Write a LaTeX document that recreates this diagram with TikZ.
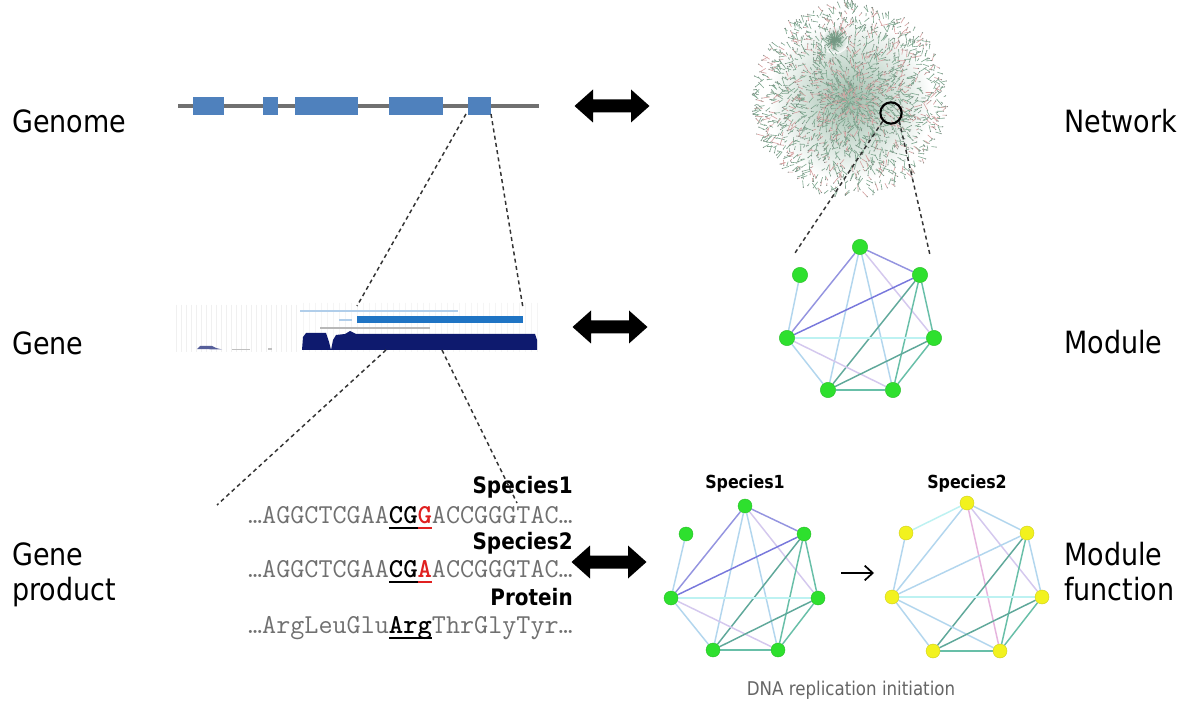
\documentclass[tikz,border=0pt]{standalone}
\usepackage{fontspec}
\setmainfont{DejaVu Sans}[FakeStretch=0.88]
\newfontfamily\seqbf{lmmonolt10-bold.otf}
\usetikzlibrary{arrows.meta}
\pgfdeclarelayer{bg}
\pgfsetlayers{bg,main}

\definecolor{exonblue}{HTML}{4F81BD}
\definecolor{trackgray}{HTML}{707070}
\definecolor{navy}{HTML}{0E1A6E}
\definecolor{barblue}{HTML}{1F74C4}
\definecolor{seqgray}{HTML}{707070}
\definecolor{seqred}{HTML}{E02020}
\definecolor{hbgreen}{HTML}{7FA890}
\definecolor{hbpink}{HTML}{D6A0A0}
\definecolor{hbdot}{HTML}{5E6E64}
\definecolor{ngreen}{HTML}{2EE02E}
\definecolor{nyellow}{HTML}{F2F21E}
\definecolor{ecyan}{HTML}{BDF2F2}
\definecolor{elblue}{HTML}{B2D6EE}
\definecolor{epurple}{HTML}{9494E0}
\definecolor{eblue}{HTML}{7878DC}
\definecolor{eteal}{HTML}{68BFA8}
\definecolor{edteal}{HTML}{5FA89A}
\definecolor{elpurple}{HTML}{D4C8EE}
\definecolor{epink}{HTML}{E6B4DE}

% underline drawn at a fixed depth below the baseline
\newcommand\seqmark[2]{\begingroup\setbox0\hbox{#2}\rlap{\color{#1}\rule[-4.6pt]{\wd0}{1.5pt}}\box0\endgroup}
% heavy weight for the highlighted codon
\newcommand\codon[2]{{\color{#1}\seqbf #2}}

\begin{document}
\begin{tikzpicture}[x=0.75pt,y=-0.75pt,
  lvl/.style={font=\fontsize{23}{26}\selectfont, anchor=base west, inner sep=0pt},
  sphead/.style={font=\fontsize{17}{20}\selectfont\bfseries, anchor=base east, inner sep=0pt},
  grtitle/.style={font=\fontsize{13.5}{16}\selectfont\bfseries, anchor=base, inner sep=0pt},
  seq/.style={font=\fontsize{20.5}{22}\ttfamily, text=seqgray, anchor=base east, inner sep=0pt},
  exon/.style={fill=exonblue, draw=none},
  zoomline/.style={draw=black!80, line width=1.1pt, dash pattern=on 3pt off 2.5pt},
  gnode/.style={circle, inner sep=0pt, minimum size=11.5, fill=#1, draw=#1!85!black, line width=0.3pt},
  gedge/.style={draw=#1, line width=1.1pt},
  pics/dblarrow/.style={code={
    \fill[black] (-37.5,0) -- (-19,-16.5) -- (-19,-6.5) -- (19,-6.5) -- (19,-16.5)
      -- (37.5,0) -- (19,16.5) -- (19,6.5) -- (-19,6.5) -- (-19,16.5) -- cycle;}}
]
\useasboundingbox (0,0) rectangle (1186,702);
\begin{pgfonlayer}{bg}
\fill[white] (0,0) rectangle (1186,702);
\end{pgfonlayer}

% ---------- row labels ----------
\node[lvl] (lgenome) at (12,133) {Genome};
\node[lvl] (lgene) at (12,355) {Gene};
\node[lvl] (lprod1) at (12,565) {Gene};
\node[lvl] (lprod2) at (12,600) {product};
\node[lvl] (lnet) at (1064,133) {Network};
\node[lvl] (lmod) at (1064,354) {Module};
\node[lvl] (lfun1) at (1064,565) {Module};
\node[lvl] (lfun2) at (1064,600) {function};

% ---------- genome track ----------
\draw[trackgray, line width=2.6pt] (178,106) -- (539,106);
\fill[exon] (193,97) rectangle (224,115);
\fill[exon] (263,97) rectangle (278,115);
\fill[exon] (295,97) rectangle (358,115);
\fill[exon] (389,97) rectangle (443,115);
\fill[exon] (468,97) rectangle (491,115);
\coordinate (exL) at (466,114);
\coordinate (exR) at (491,114);

% ---------- gene browser track ----------
\foreach \x in {176,181,...,300} \draw[black!6, line width=0.6pt] (\x,305) -- (\x,352);
\foreach \x in {303,309,...,540} \draw[black!4, line width=0.6pt] (\x,303) -- (\x,352);
\draw[barblue!35, line width=1.3pt] (300,311) -- (458,311);
\draw[barblue!35, line width=1.2pt] (339,320) -- (352,320);
\draw[black!28, line width=1.2pt] (320,328) -- (430,328);
\fill[barblue] (357,316.5) rectangle (523,323.5);
\fill[navy] (302,350) -- (303,337) -- (306,333) -- (326,333) -- (329,342) -- (331,350)
  -- (333,340) -- (336,335) -- (345,334) -- (350,331) -- (356,334) -- (535,334)
  -- (537,340) -- (537,350) -- cycle;
\fill[navy!70] (197,349) -- (200,346) -- (212,346) -- (216,348) -- (222,349.5) -- cycle;
\fill[black!25] (232,349) rectangle (250,350);
\fill[black!25] (268,348.5) rectangle (272,350);
\coordinate (gnTL) at (357,306);
\coordinate (gnTR) at (523,308);
\coordinate (gnBL) at (386,350);
\coordinate (gnBR) at (442,350);

% ---------- sequences ----------
\node[sphead] (sp1) at (573,493) {Species1};
\node[seq] (seq1) at (573,523)
  {…AGGCTCGAA\seqmark{black}{\codon{black}{CG}}\seqmark{seqred}{\codon{seqred}{G}}ACCGGGTAC…};
\node[sphead] (sp2) at (573,549) {Species2};
\node[seq] (seq2) at (573,577)
  {…AGGCTCGAA\seqmark{black}{\codon{black}{CG}}\seqmark{seqred}{\codon{seqred}{A}}ACCGGGTAC…};
\node[sphead] (prot) at (573,605) {Protein};
\node[seq] (seq3) at (573,633)
  {…ArgLeuGlu\seqmark{black}{\codon{black}{Arg}}ThrGlyTyr…};
\coordinate (sqL) at (217,505);
\coordinate (sqR) at (517,503);

% ---------- zoom lines ----------
\draw[zoomline] (exL) -- (gnTL);
\draw[zoomline] (exR) -- (gnTR);
\draw[zoomline] (gnBL) -- (sqL);
\draw[zoomline] (gnBR) -- (sqR);

% ---------- double arrows ----------
\pic at (612,106) {dblarrow};
\pic at (610,327) {dblarrow};
\pic at (609,562) {dblarrow};

% ---------- interaction network ----------
\begin{scope}[shift={(850,100)}]
  \shade[inner color=hbgreen!75, outer color=white] (0,0) circle (82);
  \shade[inner color=hbgreen!85, outer color=white] (-15,-60) circle (14);
  \pgfmathsetseed{31}
  \foreach \i in {1,...,1800}{
    \pgfmathsetmacro{\ang}{360*rnd}
    \pgfmathsetmacro{\rad}{94*pow(rnd,0.7)}
    \pgfmathsetmacro{\len}{2+6*rnd}
    \pgfmathsetmacro{\dev}{120*(rnd-0.5)}
    \pgfmathsetmacro{\pk}{rnd}
    \ifdim\pk pt<0.3pt \def\hc{hbpink}\else\def\hc{hbgreen}\fi
    \draw[\hc, line width=0.45pt] (\ang:\rad) -- ++(\ang+\dev:\len);
    \fill[hbdot!80] (\ang:\rad) ++(\ang+\dev:\len) circle[radius=0.6];
  }
  \foreach \i in {1,...,70}{
    \pgfmathsetmacro{\ang}{360*rnd}
    \pgfmathsetmacro{\rad}{11*rnd}
    \draw[hbgreen!90!black, line width=0.4pt] (-15,-60) -- ++(\ang:\rad);
  }
\end{scope}
\node[circle, draw=black, line width=1.6pt, minimum size=16, inner sep=0pt] (hub) at (891,113) {};
\coordinate (nwL) at (795,253);
\coordinate (nwR) at (930,255);
\draw[zoomline] (hub.south west) -- (nwL);
\draw[zoomline] (hub.south east) -- (nwR);

% ---------- module ----------
\foreach \n/\x/\y in {A/860/247, B/920/275, C/934/338, D/893/390, E/828/390, F/787/338, G/800/275}
  \node[gnode=ngreen] (m\n) at (\x,\y) {};
\begin{pgfonlayer}{bg}
\foreach \a/\b/\c in {G/F/elblue, A/B/epurple, A/F/epurple, A/E/elblue, A/D/elblue, A/C/elpurple,
    B/F/eblue, B/E/edteal, B/D/eteal, B/C/eteal, F/C/ecyan, F/E/elblue, F/D/elpurple,
    E/D/eteal, E/C/edteal, D/C/eteal}
  \draw[gedge=\c] (m\a) -- (m\b);
\end{pgfonlayer}

% ---------- module function: species 1 ----------
\node[grtitle] (t1) at (745,488) {Species1};
\foreach \n/\x/\y in {A/745/506, B/804/534, C/818/598, D/778/650, E/713/650, F/671/598, G/686/534}
  \node[gnode=ngreen, minimum size=10.5] (s\n) at (\x,\y) {};
\begin{pgfonlayer}{bg}
\foreach \a/\b/\c in {G/F/elblue, A/B/epurple, A/F/epurple, A/E/elblue, A/D/elblue, A/C/elpurple,
    B/F/eblue, B/E/edteal, B/D/eteal, B/C/eteal, F/C/ecyan, F/E/elblue, F/D/elpurple,
    E/D/eteal, E/C/edteal, D/C/eteal}
  \draw[gedge=\c] (s\a) -- (s\b);
\end{pgfonlayer}

% ---------- module function: species 2 ----------
\node[grtitle] (t2) at (967,488) {Species2};
\foreach \n/\x/\y in {A/967/503, B/1027/533, C/1042/597, D/1000/651, E/933/651, F/892/597, G/906/533}
  \node[gnode=nyellow, minimum size=10.5] (y\n) at (\x,\y) {};
\begin{pgfonlayer}{bg}
\foreach \a/\b/\c in {G/A/ecyan, G/F/elblue, A/F/elblue, A/B/elblue, A/D/epink, A/C/elpurple,
    B/F/elblue, B/E/edteal, B/D/eteal, B/C/elblue, F/C/ecyan, F/E/elblue, F/D/elblue,
    E/D/eteal, E/C/edteal, D/C/eteal}
  \draw[gedge=\c] (y\a) -- (y\b);
\end{pgfonlayer}

\coordinate (arS) at (841,573);
\coordinate (arE) at (874,573);
\draw[-{Straight Barb[length=6pt,width=11pt]}, line width=1.3pt] (arS) -- (arE);

\node[font=\fontsize{14.2}{16}\selectfont, text=black!60, anchor=base, inner sep=0pt] (cap) at (851,695)
  {DNA replication initiation};
\end{tikzpicture}
\end{document}
